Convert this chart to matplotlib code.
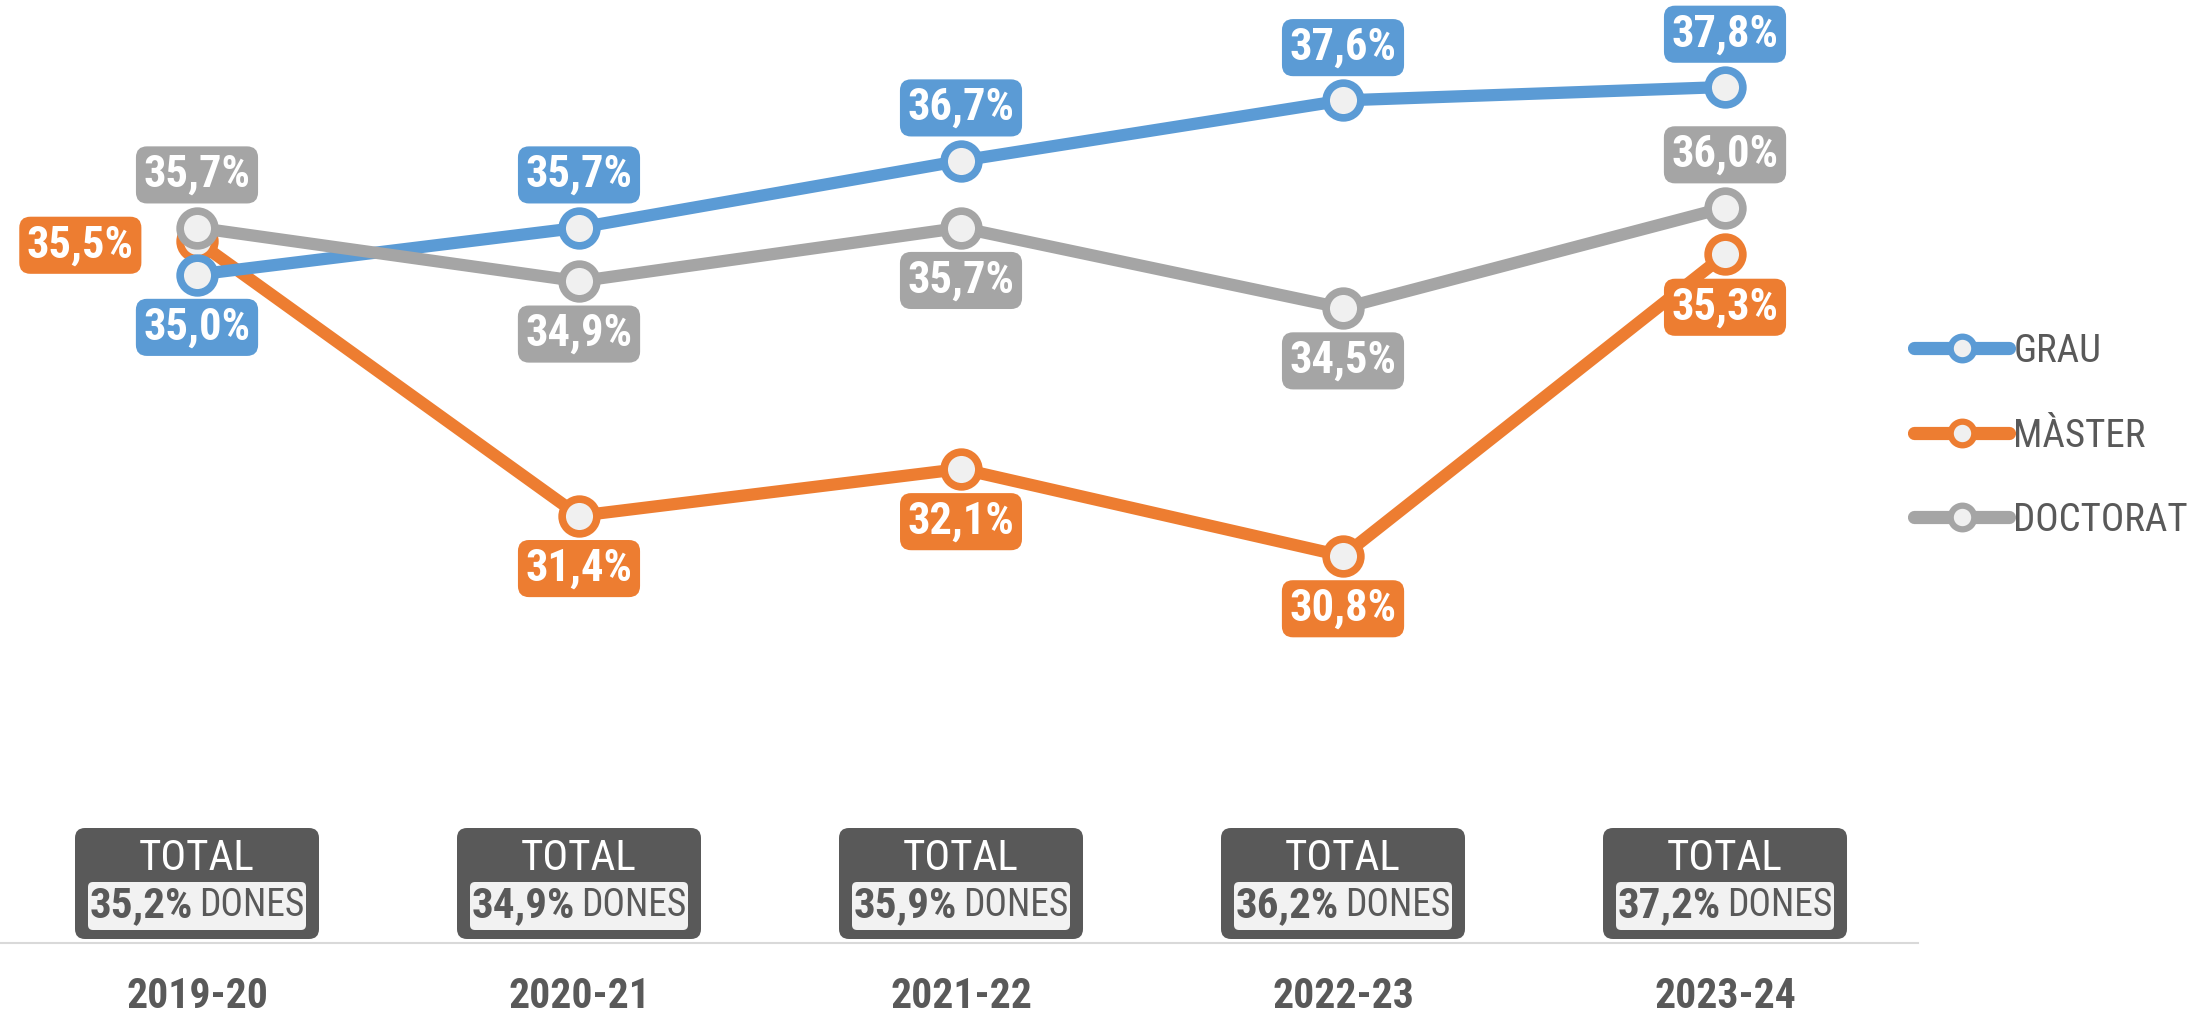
import matplotlib
matplotlib.use("Agg")
import matplotlib.pyplot as plt
from matplotlib import transforms
from matplotlib.patches import FancyBboxPatch

years = ["2019-20", "2020-21", "2021-22", "2022-23", "2023-24"]
grau = [35.0, 35.7, 36.7, 37.6, 37.8]
master = [35.5, 31.4, 32.1, 30.8, 35.3]
doctorat = [35.7, 34.9, 35.7, 34.5, 36.0]
totals = [35.2, 34.9, 35.9, 36.2, 37.2]
series_names = ["GRAU", "MÀSTER", "DOCTORAT"]

# label placement: 'a' above, 'b' below, 'l' left
grau_pos = ['b', 'a', 'a', 'a', 'a']
master_pos = ['l', 'b', 'b', 'b', 'b']
doct_pos = ['a', 'b', 'b', 'b', 'a']

FAM = ['Roboto Condensed', 'DejaVu Sans']
plt.rcParams['font.family'] = FAM

BLUE = '#5B9BD5'
ORANGE = '#ED7D31'
GRAY = '#A5A5A5'
DARK = '#595959'
FACE = '#F0F0F0'

DPI = 100
fig = plt.figure(figsize=(21.87, 10.16), dpi=DPI)
ax = fig.add_axes([0, 0, 1, 1])
ax.set_xlim(-0.5157, 5.2094)
ax.set_ylim(23.934, 39.0985)
ax.axis('off')

x = list(range(len(years)))
order = [(grau, BLUE, grau_pos, 3), (master, ORANGE, master_pos, 2), (doctorat, GRAY, doct_pos, 4)]
lines = []
for (vals, col, pos, z), name in zip(order, series_names):
    ln, = ax.plot(x, vals, color=col, lw=8.8, marker='o', ms=25, mfc=FACE, mec=col,
                  mew=5.5, label=name, zorder=z, solid_capstyle='round')
    lines.append(ln)

def fmt(v):
    return f"{v:.1f}".replace('.', ',') + '%'

for (vals, col, pos, z) in order:
    for i, (v, p) in enumerate(zip(vals, pos)):
        if p == 'a':
            off = (0, 38)
        elif p == 'b':
            off = (0, -38)
        else:
            off = (-84, -3)
        ax.annotate(fmt(v), (i, v), xytext=off,
                    textcoords='offset points', ha='center', va='center',
                    fontsize=32, fontweight='bold', color='white', zorder=10,
                    bbox=dict(boxstyle='round,pad=0.17,rounding_size=0.25', fc=col, ec='none'))

# legend
leg = ax.legend(handles=lines, loc='center left', bbox_to_anchor=(1914 / 2187, 1 - 436 / 1016),
                frameon=False, fontsize=28, handlelength=2.45, handletextpad=0.1,
                labelspacing=1.22, borderpad=0, borderaxespad=0)
for t in leg.get_texts():
    t.set_color(DARK)
for h in leg.legend_handles:
    h.set_linewidth(9.5)
    h.set_markersize(17)
    h.set_markeredgewidth(4.5)

# total boxes
blend = transforms.blended_transform_factory(ax.transData, ax.transAxes)
yc = 1 - 883.5 / 1016
renderer = fig.canvas.get_renderer()
for i, t in enumerate(totals):
    tr = fig.dpi_scale_trans + transforms.ScaledTranslation(i, yc, blend)
    ax.add_patch(FancyBboxPatch((-1.22 + 0.1, -0.555 + 0.1), 2.44 - 0.2, 1.11 - 0.2,
                                boxstyle='round,pad=0.1', fc=DARK, ec='none', transform=tr))
    ax.add_patch(FancyBboxPatch((-1.09 + 0.05, -0.465 + 0.05), 2.18 - 0.1, 0.48 - 0.1,
                                boxstyle='round,pad=0.05', fc='#F2F2F2', ec='none', transform=tr))
    ax.text(0, 0.245, 'TOTAL', transform=tr, ha='center', va='center', fontsize=31, color='white')
    t1 = ax.text(0, -0.225, fmt(t), transform=tr, ha='right', va='center',
                 fontsize=31, fontweight='bold', color=DARK)
    t2 = ax.text(0, -0.225, 'DONES', transform=tr, ha='left', va='center', fontsize=27, color=DARK)
    w1 = t1.get_window_extent(renderer).width / DPI
    w2 = t2.get_window_extent(renderer).width / DPI
    gap = 0.07
    left = -(w1 + gap + w2) / 2
    t1.set_x(left + w1)
    t2.set_x(left + w1 + gap)

ax.plot([0, 1918 / 2187], [1 - 943 / 1016] * 2, transform=ax.transAxes, color='#D9D9D9', lw=1.5)

for i, y in enumerate(years):
    ax.text(i, 1 - 1008 / 1016, y, transform=blend, ha='center', va='baseline', fontsize=30,
            fontweight='bold', color=DARK)

fig.savefig('out.png', dpi=DPI)
